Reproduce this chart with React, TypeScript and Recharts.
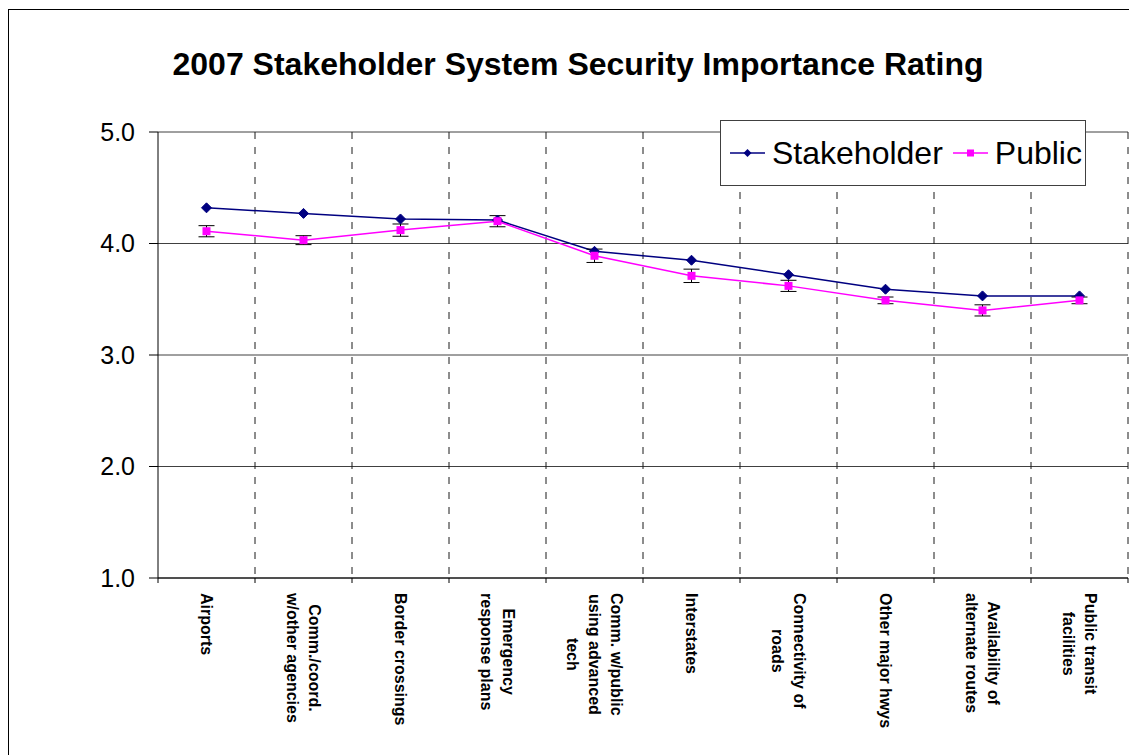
import React from 'react';
import { LineChart, Line, XAxis, YAxis, CartesianGrid, ErrorBar } from 'recharts';

// category labels, already broken into the lines used on the axis
const categoryLines: string[][] = [
  ['Airports'],
  ['Comm./coord.', 'w/other agencies'],
  ['Border crossings'],
  ['Emergency', 'response plans'],
  ['Comm. w/public', 'using advanced', 'tech'],
  ['Interstates'],
  ['Connectivity of', 'roads'],
  ['Other major hwys'],
  ['Availability of', 'alternate routes'],
  ['Public transit', 'facilities'],
];

const stakeholderRating = [4.32, 4.27, 4.22, 4.21, 3.93, 3.85, 3.72, 3.59, 3.53, 3.53];
const publicRating = [4.11, 4.03, 4.12, 4.2, 3.89, 3.71, 3.62, 3.49, 3.4, 3.49];
const publicError = [0.05, 0.04, 0.055, 0.05, 0.06, 0.06, 0.05, 0.03, 0.05, 0.03];

const yTicks = [1, 2, 3, 4, 5];

const seriesNames = ['Stakeholder', 'Public'];
const seriesColors = ['#000080', '#ff00ff'];

const data = categoryLines.map((lines, i) => ({
  name: lines.join(' '),
  stakeholder: stakeholderRating[i],
  public: publicRating[i],
  publicErr: publicError[i],
}));

const FONT = 'Arial, "Liberation Sans", sans-serif';
const LABEL_FONT_SIZE = 16;

let measureCtx: CanvasRenderingContext2D | null = null;
function textWidth(text: string, font: string) {
  if (!measureCtx) measureCtx = document.createElement('canvas').getContext('2d');
  if (!measureCtx) return text.length * 9;
  measureCtx.font = font;
  return measureCtx.measureText(text).width;
}

// dashed lines sit on the category boundaries, not on the centres
function boundaryLines({ xAxis, offset }: any) {
  const n = data.length;
  const scale = xAxis && xAxis.scale;
  let r0 = offset.left;
  let r1 = offset.left + offset.width;
  try {
    if (scale && typeof scale.range === 'function') {
      const r = scale.range();
      if (r && r.length >= 2 && isFinite(r[0]) && isFinite(r[1])) {
        r0 = Math.min(r[0], r[r.length - 1]);
        r1 = Math.max(r[0], r[r.length - 1]);
      }
    }
  } catch (e) {
    // keep the plot extent
  }
  const step = (r1 - r0) / n;
  return data.map((_, i) => r0 + step * (i + 1));
}

function CategoryTick({ x, y, payload, index, width, visibleTicksCount }: any) {
  const lines = categoryLines[payload.index] || [String(payload.value)];
  const maxW = Math.max(
    ...lines.map((l) => textWidth(l, `bold ${LABEL_FONT_SIZE}px Arial`))
  );
  const n = lines.length;
  const half =
    typeof width === 'number' && visibleTicksCount ? width / visibleTicksCount / 2 : null;
  return (
    <g transform={`translate(${x},${y})`}>
      {half != null && <line x1={-half} x2={-half} y1={0} y2={5} stroke="#000" />}
      {half != null && index === visibleTicksCount - 1 && (
        <line x1={half} x2={half} y1={0} y2={5} stroke="#000" />
      )}
      <text
        transform="rotate(90)"
        textAnchor="middle"
        fontFamily={FONT}
        fontSize={LABEL_FONT_SIZE}
        fontWeight="bold"
        fill="#000"
      >
        {lines.map((l, i) => (
          <tspan key={i} x={15 + maxW / 2} y={(i - (n - 1) / 2) * 22} dy="0.36em">
            {l}
          </tspan>
        ))}
      </text>
    </g>
  );
}

function Diamond({ cx, cy }: any) {
  if (cx == null || cy == null) return null;
  const r = 5;
  return (
    <path
      d={`M${cx},${cy - r}L${cx + r},${cy}L${cx},${cy + r}L${cx - r},${cy}Z`}
      fill={seriesColors[0]}
      stroke={seriesColors[0]}
    />
  );
}

function Square({ cx, cy }: any) {
  if (cx == null || cy == null) return null;
  const s = 4;
  return <rect x={cx - s} y={cy - s} width={s * 2} height={s * 2} fill={seriesColors[1]} />;
}

function LegendBox() {
  return (
    <div
      style={{
        position: 'absolute',
        left: 712,
        top: 112,
        width: 366,
        height: 66,
        boxSizing: 'border-box',
        border: '1px solid #404040',
        background: '#fff',
        display: 'flex',
        alignItems: 'center',
        paddingLeft: 9,
        fontFamily: FONT,
        fontSize: 32,
        lineHeight: '32px',
        color: '#000',
        whiteSpace: 'nowrap',
      }}
    >
      {seriesNames.map((name, i) => (
        <div key={name} style={{ display: 'flex', alignItems: 'center', marginRight: 10 }}>
          <svg width={35} height={14} style={{ marginRight: 7 }}>
            <line x1={0} y1={7} x2={35} y2={7} stroke={seriesColors[i]} strokeWidth={1.5} />
            {i === 0 ? (
              <path d="M17.5,3L21.5,7L17.5,11L13.5,7Z" fill={seriesColors[i]} />
            ) : (
              <rect x={14} y={3.5} width={7} height={7} fill={seriesColors[i]} />
            )}
          </svg>
          <span>{name}</span>
        </div>
      ))}
    </div>
  );
}

export default function App() {
  return (
    <div
      style={{
        position: 'relative',
        width: 1129,
        height: 747,
        overflow: 'hidden',
        background: '#fff',
        fontFamily: FONT,
      }}
    >
      <div
        style={{
          position: 'absolute',
          left: 0,
          top: 1,
          width: 1140,
          height: 760,
          border: '1px solid #000',
          pointerEvents: 'none',
        }}
      />
      <div
        style={{
          position: 'absolute',
          left: 0,
          top: 40,
          width: 1140,
          textAlign: 'center',
          fontSize: 32,
          lineHeight: '32px',
          fontWeight: 'bold',
          color: '#000',
        }}
      >
        2007 Stakeholder System Security Importance Rating
      </div>
      <LineChart
        width={1129}
        height={747}
        data={data}
        margin={{ top: 124, right: 9, left: 0, bottom: 0 }}
      >
        <CartesianGrid vertical={false} stroke="#404040" />
        <CartesianGrid
          horizontal={false}
          stroke="#1a1a1a"
          strokeDasharray="7 8"
          verticalCoordinatesGenerator={boundaryLines}
        />
        <XAxis
          dataKey="name"
          scale="band"
          interval={0}
          axisLine={{ stroke: '#000' }}
          tickLine={false}
          tickSize={0}
          tickMargin={0}
          height={177}
          tick={<CategoryTick />}
        />
        <YAxis
          domain={[1, 5]}
          ticks={yTicks}
          width={150}
          tickFormatter={(v: number) => v.toFixed(1)}
          axisLine={{ stroke: '#000' }}
          tickLine={{ stroke: '#000' }}
          tickSize={9}
          tickMargin={14}
          tick={{ fontSize: 25, fill: '#000', fontFamily: FONT }}
        />
        <Line
          dataKey="stakeholder"
          name={seriesNames[0]}
          stroke={seriesColors[0]}
          strokeWidth={1.5}
          dot={<Diamond />}
          activeDot={false}
          isAnimationActive={false}
        />
        <Line
          dataKey="public"
          name={seriesNames[1]}
          stroke={seriesColors[1]}
          strokeWidth={1.5}
          dot={<Square />}
          activeDot={false}
          isAnimationActive={false}
        >
          <ErrorBar dataKey="publicErr" width={8} strokeWidth={1} stroke="#000" direction="y" />
        </Line>
      </LineChart>
      <LegendBox />
    </div>
  );
}
